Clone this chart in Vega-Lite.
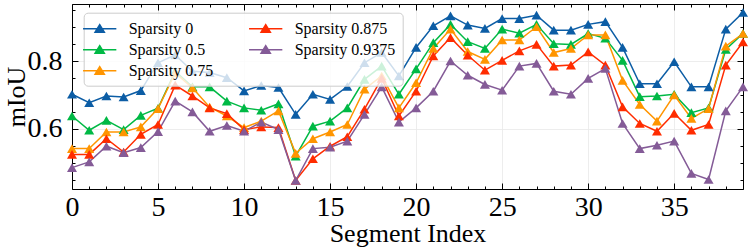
{
  "$schema": "https://vega.github.io/schema/vega-lite/v6.json",
  "width": 671,
  "height": 185,
  "autosize": "none",
  "padding": {"left": 72, "top": 4, "right": 5, "bottom": 63},
  "config": {
    "font": "Liberation Serif",
    "view": {"stroke": null},
    "legend": {"labelFont": "Liberation Serif", "labelFontSize": 16, "labelColor": "black"},
    "axis": {
      "domainColor": "black",
      "domainWidth": 1,
      "tickColor": "black",
      "tickWidth": 1,
      "labelColor": "black",
      "titleColor": "black",
      "labelFont": "Liberation Serif",
      "titleFont": "Liberation Serif",
      "labelFontSize": 28,
      "titleFontSize": 26,
      "titleFontWeight": "normal",
      "gridColor": "#e8e8e8",
      "gridWidth": 0.8
    }
  },
  "data": {"values": [
    {"s":"Sparsity 0","x":0,"y":0.702},{"s":"Sparsity 0","x":1,"y":0.677},{"s":"Sparsity 0","x":2,"y":0.697},{"s":"Sparsity 0","x":3,"y":0.694},{"s":"Sparsity 0","x":4,"y":0.713},{"s":"Sparsity 0","x":5,"y":0.795},{"s":"Sparsity 0","x":6,"y":0.818},{"s":"Sparsity 0","x":7,"y":0.770},{"s":"Sparsity 0","x":8,"y":0.766},{"s":"Sparsity 0","x":9,"y":0.751},
    {"s":"Sparsity 0","x":10,"y":0.712},{"s":"Sparsity 0","x":11,"y":0.728},{"s":"Sparsity 0","x":12,"y":0.722},{"s":"Sparsity 0","x":13,"y":0.643},{"s":"Sparsity 0","x":14,"y":0.702},{"s":"Sparsity 0","x":15,"y":0.687},{"s":"Sparsity 0","x":16,"y":0.725},{"s":"Sparsity 0","x":17,"y":0.795},{"s":"Sparsity 0","x":18,"y":0.825},{"s":"Sparsity 0","x":19,"y":0.756},
    {"s":"Sparsity 0","x":20,"y":0.840},{"s":"Sparsity 0","x":21,"y":0.904},{"s":"Sparsity 0","x":22,"y":0.933},{"s":"Sparsity 0","x":23,"y":0.906},{"s":"Sparsity 0","x":24,"y":0.896},{"s":"Sparsity 0","x":25,"y":0.925},{"s":"Sparsity 0","x":26,"y":0.925},{"s":"Sparsity 0","x":27,"y":0.935},{"s":"Sparsity 0","x":28,"y":0.891},{"s":"Sparsity 0","x":29,"y":0.891},
    {"s":"Sparsity 0","x":30,"y":0.908},{"s":"Sparsity 0","x":31,"y":0.916},{"s":"Sparsity 0","x":32,"y":0.840},{"s":"Sparsity 0","x":33,"y":0.733},{"s":"Sparsity 0","x":34,"y":0.733},{"s":"Sparsity 0","x":35,"y":0.798},{"s":"Sparsity 0","x":36,"y":0.724},{"s":"Sparsity 0","x":37,"y":0.724},{"s":"Sparsity 0","x":38,"y":0.894},{"s":"Sparsity 0","x":39,"y":0.943},

    {"s":"Sparsity 0.5","x":0,"y":0.638},{"s":"Sparsity 0.5","x":1,"y":0.596},{"s":"Sparsity 0.5","x":2,"y":0.625},{"s":"Sparsity 0.5","x":3,"y":0.598},{"s":"Sparsity 0.5","x":4,"y":0.640},{"s":"Sparsity 0.5","x":5,"y":0.661},{"s":"Sparsity 0.5","x":6,"y":0.770},{"s":"Sparsity 0.5","x":7,"y":0.724},{"s":"Sparsity 0.5","x":8,"y":0.724},{"s":"Sparsity 0.5","x":9,"y":0.682},
    {"s":"Sparsity 0.5","x":10,"y":0.662},{"s":"Sparsity 0.5","x":11,"y":0.655},{"s":"Sparsity 0.5","x":12,"y":0.674},{"s":"Sparsity 0.5","x":13,"y":0.520},{"s":"Sparsity 0.5","x":14,"y":0.608},{"s":"Sparsity 0.5","x":15,"y":0.623},{"s":"Sparsity 0.5","x":16,"y":0.662},{"s":"Sparsity 0.5","x":17,"y":0.746},{"s":"Sparsity 0.5","x":18,"y":0.785},{"s":"Sparsity 0.5","x":19,"y":0.702},
    {"s":"Sparsity 0.5","x":20,"y":0.777},{"s":"Sparsity 0.5","x":21,"y":0.854},{"s":"Sparsity 0.5","x":22,"y":0.908},{"s":"Sparsity 0.5","x":23,"y":0.857},{"s":"Sparsity 0.5","x":24,"y":0.837},{"s":"Sparsity 0.5","x":25,"y":0.894},{"s":"Sparsity 0.5","x":26,"y":0.882},{"s":"Sparsity 0.5","x":27,"y":0.908},{"s":"Sparsity 0.5","x":28,"y":0.851},{"s":"Sparsity 0.5","x":29,"y":0.849},
    {"s":"Sparsity 0.5","x":30,"y":0.881},{"s":"Sparsity 0.5","x":31,"y":0.867},{"s":"Sparsity 0.5","x":32,"y":0.802},{"s":"Sparsity 0.5","x":33,"y":0.695},{"s":"Sparsity 0.5","x":34,"y":0.697},{"s":"Sparsity 0.5","x":35,"y":0.702},{"s":"Sparsity 0.5","x":36,"y":0.648},{"s":"Sparsity 0.5","x":37,"y":0.662},{"s":"Sparsity 0.5","x":38,"y":0.834},{"s":"Sparsity 0.5","x":39,"y":0.881},

    {"s":"Sparsity 0.75","x":0,"y":0.542},{"s":"Sparsity 0.75","x":1,"y":0.542},{"s":"Sparsity 0.75","x":2,"y":0.591},{"s":"Sparsity 0.75","x":3,"y":0.591},{"s":"Sparsity 0.75","x":4,"y":0.606},{"s":"Sparsity 0.75","x":5,"y":0.660},{"s":"Sparsity 0.75","x":6,"y":0.765},{"s":"Sparsity 0.75","x":7,"y":0.721},{"s":"Sparsity 0.75","x":8,"y":0.664},{"s":"Sparsity 0.75","x":9,"y":0.638},
    {"s":"Sparsity 0.75","x":10,"y":0.604},{"s":"Sparsity 0.75","x":11,"y":0.623},{"s":"Sparsity 0.75","x":12,"y":0.653},{"s":"Sparsity 0.75","x":13,"y":0.528},{"s":"Sparsity 0.75","x":14,"y":0.571},{"s":"Sparsity 0.75","x":15,"y":0.591},{"s":"Sparsity 0.75","x":16,"y":0.613},{"s":"Sparsity 0.75","x":17,"y":0.717},{"s":"Sparsity 0.75","x":18,"y":0.756},{"s":"Sparsity 0.75","x":19,"y":0.662},
    {"s":"Sparsity 0.75","x":20,"y":0.736},{"s":"Sparsity 0.75","x":21,"y":0.837},{"s":"Sparsity 0.75","x":22,"y":0.894},{"s":"Sparsity 0.75","x":23,"y":0.828},{"s":"Sparsity 0.75","x":24,"y":0.805},{"s":"Sparsity 0.75","x":25,"y":0.862},{"s":"Sparsity 0.75","x":26,"y":0.862},{"s":"Sparsity 0.75","x":27,"y":0.901},{"s":"Sparsity 0.75","x":28,"y":0.825},{"s":"Sparsity 0.75","x":29,"y":0.837},
    {"s":"Sparsity 0.75","x":30,"y":0.877},{"s":"Sparsity 0.75","x":31,"y":0.877},{"s":"Sparsity 0.75","x":32,"y":0.743},{"s":"Sparsity 0.75","x":33,"y":0.672},{"s":"Sparsity 0.75","x":34,"y":0.623},{"s":"Sparsity 0.75","x":35,"y":0.700},{"s":"Sparsity 0.75","x":36,"y":0.631},{"s":"Sparsity 0.75","x":37,"y":0.660},{"s":"Sparsity 0.75","x":38,"y":0.844},{"s":"Sparsity 0.75","x":39,"y":0.881},

    {"s":"Sparsity 0.875","x":0,"y":0.525},{"s":"Sparsity 0.875","x":1,"y":0.525},{"s":"Sparsity 0.875","x":2,"y":0.571},{"s":"Sparsity 0.875","x":3,"y":0.532},{"s":"Sparsity 0.875","x":4,"y":0.584},{"s":"Sparsity 0.875","x":5,"y":0.613},{"s":"Sparsity 0.875","x":6,"y":0.729},{"s":"Sparsity 0.875","x":7,"y":0.697},{"s":"Sparsity 0.875","x":8,"y":0.662},{"s":"Sparsity 0.875","x":9,"y":0.645},
    {"s":"Sparsity 0.875","x":10,"y":0.598},{"s":"Sparsity 0.875","x":11,"y":0.606},{"s":"Sparsity 0.875","x":12,"y":0.604},{"s":"Sparsity 0.875","x":13,"y":0.448},{"s":"Sparsity 0.875","x":14,"y":0.512},{"s":"Sparsity 0.875","x":15,"y":0.549},{"s":"Sparsity 0.875","x":16,"y":0.577},{"s":"Sparsity 0.875","x":17,"y":0.658},{"s":"Sparsity 0.875","x":18,"y":0.749},{"s":"Sparsity 0.875","x":19,"y":0.638},
    {"s":"Sparsity 0.875","x":20,"y":0.711},{"s":"Sparsity 0.875","x":21,"y":0.815},{"s":"Sparsity 0.875","x":22,"y":0.869},{"s":"Sparsity 0.875","x":23,"y":0.817},{"s":"Sparsity 0.875","x":24,"y":0.773},{"s":"Sparsity 0.875","x":25,"y":0.802},{"s":"Sparsity 0.875","x":26,"y":0.830},{"s":"Sparsity 0.875","x":27,"y":0.849},{"s":"Sparsity 0.875","x":28,"y":0.785},{"s":"Sparsity 0.875","x":29,"y":0.788},
    {"s":"Sparsity 0.875","x":30,"y":0.827},{"s":"Sparsity 0.875","x":31,"y":0.788},{"s":"Sparsity 0.875","x":32,"y":0.665},{"s":"Sparsity 0.875","x":33,"y":0.616},{"s":"Sparsity 0.875","x":34,"y":0.593},{"s":"Sparsity 0.875","x":35,"y":0.646},{"s":"Sparsity 0.875","x":36,"y":0.596},{"s":"Sparsity 0.875","x":37,"y":0.613},{"s":"Sparsity 0.875","x":38,"y":0.788},{"s":"Sparsity 0.875","x":39,"y":0.856},

    {"s":"Sparsity 0.9375","x":0,"y":0.486},{"s":"Sparsity 0.9375","x":1,"y":0.503},{"s":"Sparsity 0.9375","x":2,"y":0.549},{"s":"Sparsity 0.9375","x":3,"y":0.530},{"s":"Sparsity 0.9375","x":4,"y":0.545},{"s":"Sparsity 0.9375","x":5,"y":0.592},{"s":"Sparsity 0.9375","x":6,"y":0.682},{"s":"Sparsity 0.9375","x":7,"y":0.650},{"s":"Sparsity 0.9375","x":8,"y":0.593},{"s":"Sparsity 0.9375","x":9,"y":0.610},
    {"s":"Sparsity 0.9375","x":10,"y":0.593},{"s":"Sparsity 0.9375","x":11,"y":0.620},{"s":"Sparsity 0.9375","x":12,"y":0.598},{"s":"Sparsity 0.9375","x":13,"y":0.448},{"s":"Sparsity 0.9375","x":14,"y":0.542},{"s":"Sparsity 0.9375","x":15,"y":0.546},{"s":"Sparsity 0.9375","x":16,"y":0.564},{"s":"Sparsity 0.9375","x":17,"y":0.643},{"s":"Sparsity 0.9375","x":18,"y":0.724},{"s":"Sparsity 0.9375","x":19,"y":0.620},
    {"s":"Sparsity 0.9375","x":20,"y":0.662},{"s":"Sparsity 0.9375","x":21,"y":0.711},{"s":"Sparsity 0.9375","x":22,"y":0.800},{"s":"Sparsity 0.9375","x":23,"y":0.758},{"s":"Sparsity 0.9375","x":24,"y":0.731},{"s":"Sparsity 0.9375","x":25,"y":0.714},{"s":"Sparsity 0.9375","x":26,"y":0.785},{"s":"Sparsity 0.9375","x":27,"y":0.793},{"s":"Sparsity 0.9375","x":28,"y":0.711},{"s":"Sparsity 0.9375","x":29,"y":0.702},
    {"s":"Sparsity 0.9375","x":30,"y":0.749},{"s":"Sparsity 0.9375","x":31,"y":0.778},{"s":"Sparsity 0.9375","x":32,"y":0.616},{"s":"Sparsity 0.9375","x":33,"y":0.542},{"s":"Sparsity 0.9375","x":34,"y":0.552},{"s":"Sparsity 0.9375","x":35,"y":0.564},{"s":"Sparsity 0.9375","x":36,"y":0.469},{"s":"Sparsity 0.9375","x":37,"y":0.451},{"s":"Sparsity 0.9375","x":38,"y":0.653},{"s":"Sparsity 0.9375","x":39,"y":0.724}
  ]},
  "layer": [
    {
      "mark": {"type": "line", "strokeWidth": 1.5, "point": {"shape": "triangle-up", "filled": true, "size": 100, "opacity": 1}},
      "encoding": {
        "x": {
          "field": "x", "type": "quantitative",
          "scale": {"domain": [0, 39], "nice": false, "zero": false},
          "axis": {
            "orient": "bottom",
            "title": "Segment Index",
            "values": [0,1,2,3,4,5,6,7,8,9,10,11,12,13,14,15,16,17,18,19,20,21,22,23,24,25,26,27,28,29,30,31,32,33,34,35,36,37,38,39],
            "labelExpr": "datum.value % 5 === 0 ? datum.label : ''",
            "tickSize": {"condition": {"test": "datum.value % 5 === 0", "value": -6}, "value": -3},
            "labelPadding": 10,
            "labelFlush": false,
            "labelOverlap": false,
            "grid": true,
            "gridOpacity": {"condition": {"test": "datum.value % 5 === 0", "value": 1}, "value": 0},
            "titleBaseline": "alphabetic",
            "titleY": 52
          }
        },
        "y": {
          "field": "y", "type": "quantitative",
          "scale": {"domain": [0.423, 0.968], "nice": false, "zero": false},
          "axis": {
            "orient": "left",
            "title": "mIoU",
            "values": [0.45,0.5,0.55,0.6,0.65,0.7,0.75,0.8,0.85,0.9,0.95],
            "labelExpr": "abs(datum.value*5 - round(datum.value*5)) < 0.000001 ? format(datum.value, '.1f') : ''",
            "tickSize": {"condition": {"test": "abs(datum.value*5 - round(datum.value*5)) < 0.000001", "value": -6}, "value": -3},
            "labelPadding": 16,
            "labelOverlap": false,
            "grid": true,
            "gridOpacity": {"condition": {"test": "abs(datum.value*5 - round(datum.value*5)) < 0.000001", "value": 1}, "value": 0},
            "titleBaseline": "middle",
            "titleX": -56
          }
        },
        "color": {
          "field": "s", "type": "nominal",
          "scale": {
            "domain": ["Sparsity 0", "Sparsity 0.5", "Sparsity 0.75", "Sparsity 0.875", "Sparsity 0.9375"],
            "range": ["#0C5DA5", "#00B945", "#FF9500", "#FF2C00", "#845B97"]
          },
          "legend": {
            "title": null,
            "orient": "none",
            "legendX": 11.7,
            "legendY": 8.7,
            "columns": 2,
            "columnPadding": 32,
            "rowPadding": 4,
            "padding": 7,
            "fillColor": "rgba(255,255,255,0.8)",
            "strokeColor": "#cccccc",
            "cornerRadius": 4,
            "symbolType": "M-2.08,0L2.08,0M0,-0.5L0.58,0.45L-0.58,0.45Z",
            "symbolSize": 256,
            "symbolStrokeWidth": 1.5,
            "symbolOffset": 0,
            "labelOffset": 20,
            "labelFont": "Liberation Serif",
            "labelFontSize": 16,
            "labelColor": "black",
            "encode": {
              "symbols": {
                "update": {
                  "fill": {"scale": "color", "field": "value"},
                  "stroke": {"scale": "color", "field": "value"},
                  "strokeWidth": {"value": 1.5},
                  "opacity": {"value": 1}
                }
              },
              "labels": {
                "update": {
                  "fontSize": {"value": 16},
                  "font": {"value": "Liberation Serif"}
                }
              }
            }
          }
        }
      }
    },
    {
      "mark": {"type": "point", "opacity": 0},
      "encoding": {
        "x": {
          "field": "x", "type": "quantitative",
          "scale": {"domain": [0, 39], "nice": false, "zero": false},
          "axis": {
            "orient": "top",
            "title": null,
            "labels": false,
            "values": [0,1,2,3,4,5,6,7,8,9,10,11,12,13,14,15,16,17,18,19,20,21,22,23,24,25,26,27,28,29,30,31,32,33,34,35,36,37,38,39],
            "tickSize": {"condition": {"test": "datum.value % 5 === 0", "value": -6}, "value": -3},
            "grid": false
          }
        },
        "y": {
          "field": "y", "type": "quantitative",
          "scale": {"domain": [0.423, 0.968], "nice": false, "zero": false},
          "axis": {
            "orient": "right",
            "title": null,
            "labels": false,
            "values": [0.45,0.5,0.55,0.6,0.65,0.7,0.75,0.8,0.85,0.9,0.95],
            "tickSize": {"condition": {"test": "abs(datum.value*5 - round(datum.value*5)) < 0.000001", "value": -6}, "value": -3},
            "grid": false
          }
        }
      }
    }
  ],
  "resolve": {"axis": {"x": "independent", "y": "independent"}}
}
